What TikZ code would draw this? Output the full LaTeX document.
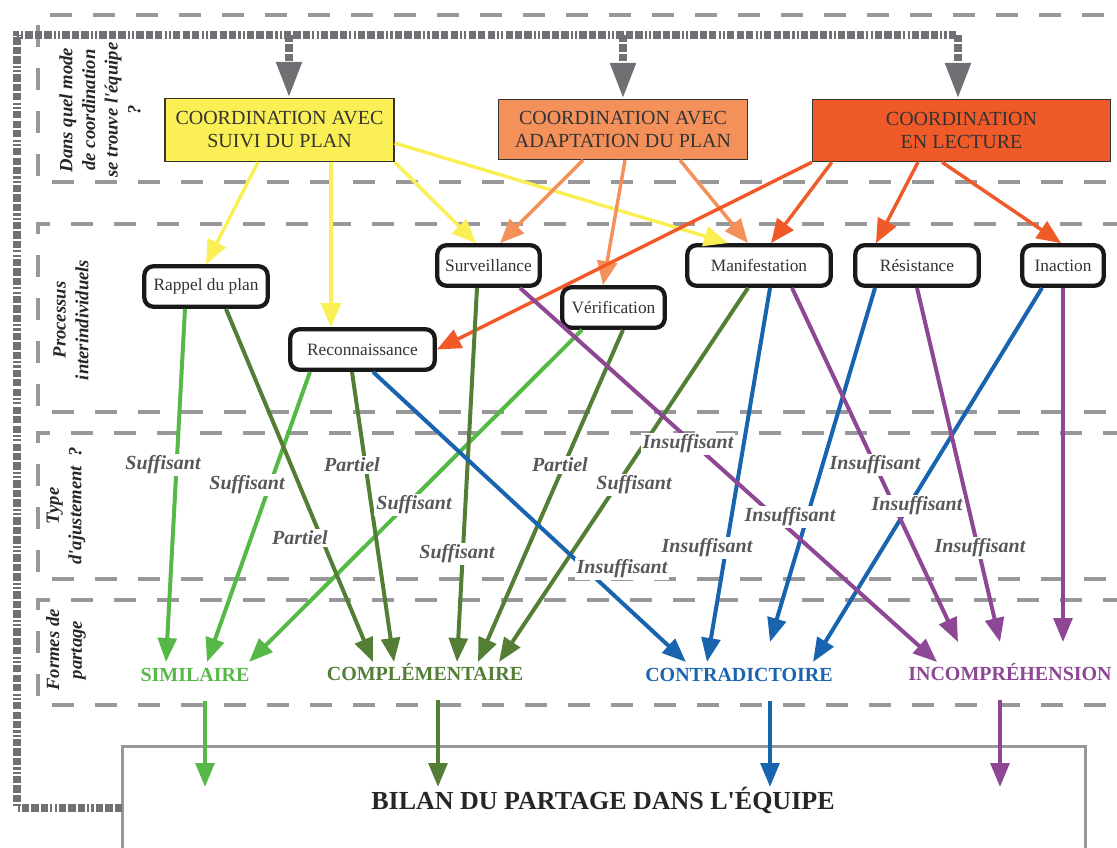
\documentclass[tikz,border=0pt]{standalone}
\usepackage{fontspec}
\setmainfont{Liberation Serif}[Ligatures=TeXOff]
\usetikzlibrary{arrows.meta}

\begin{document}
\begin{tikzpicture}[x=.75pt, y=-.75pt,
	band/.style={color=bandgrey, line width=3pt, dash pattern=on 16.5pt off 15.75pt},
	cadre/.style={color=framegrey, line width=6pt, dash pattern=on 5.5pt off 1.6pt on 5.5pt off 1.6pt on 5.5pt off 1.6pt on 1.6pt off 1.6pt on 1.6pt off 1.6pt},
	greytip/.style={-{Triangle[length=27pt, width=18pt]}},
	coordbox/.style={draw=black!80, line width=1pt, align=center, text=black!80, font=\fontsize{15}{17.25}\selectfont},
	procbox/.style={draw=black!90, fill=white, line width=3.2pt, rounded corners=7pt, minimum height=30.4pt, text=black!80, font=\fontsize{13}{15}\selectfont},
	upper/.style={line width=2.6pt, -{Triangle[length=18pt, width=15pt]}},
	lower/.style={line width=3pt, -{Triangle[length=18pt, width=14pt]}},
	lien/.style={fill=white, inner sep=1.5pt, text=textgrey, font=\fontsize{15}{17}\selectfont\bfseries\itshape},
	forme/.style={font=\fontsize{15}{17}\selectfont\bfseries, text height=10.5pt, text depth=0pt, inner ysep=15pt},
	question/.style={rotate=90, align=center, text=black!85, font=\fontsize{14}{17}\selectfont\bfseries\itshape},
]

\useasboundingbox (0, 0) rectangle (1117, 847);
\clip (0, 0) rectangle (1117, 847); % limit img size

	\definecolor{bandgrey}{HTML}{98989B}
	\definecolor{framegrey}{HTML}{6F7074}
	\definecolor{textgrey}{HTML}{58585A}

	% bands
	\draw[band] (50, 15) -- (1140, 15);
	\draw[band] (38, 25) -- (38, 182);
	\draw[band] (52, 182) -- (1140, 182);
	\draw[band] (38, 234) -- (38, 224) -- (1140, 224);
	\draw[band] (38, 255) -- (38, 412);
	\draw[band] (52, 412) -- (1140, 412);
	\draw[band] (38, 443) -- (38, 433) -- (1140, 433);
	\draw[band] (38, 464) -- (38, 579);
	\draw[band] (52, 579) -- (1140, 579);
	\draw[band] (38, 610) -- (38, 600) -- (1140, 600);
	\draw[band] (38, 631) -- (38, 705);
	\draw[band] (52, 705) -- (1140, 705);

	% questions
	\node[question] (qmode) at (100, 110) {Dans quel mode\\de coordination\\se trouve l'équipe\\?};
	\node[question] (qproc) at (71, 320) {Processus\\interindividuels};
	\node[question] (qtype) at (66, 506) {Type\\d'ajustement\enspace?};
	\node[question] (qforme) at (66, 650) {Formes de\\partage};

	% coordination modes
	\definecolor{suivi}{HTML}{FAF055}
	\definecolor{adapt}{HTML}{F4915B}
	\definecolor{lecture}{HTML}{F05A28}
	\node[coordbox, fill=suivi, minimum width=171.75pt, minimum height=47.25pt] (suivi) at (279.5, 130) {COORDINATION AVEC\\SUIVI DU PLAN};
	\node[coordbox, fill=adapt, minimum width=186.75pt, minimum height=45pt] (adapt) at (623, 129.5) {COORDINATION AVEC\\ADAPTATION DU PLAN};
	\node[coordbox, fill=lecture, minimum width=223.5pt, minimum height=46.5pt] (lecture) at (961.5, 130.5) {COORDINATION\\EN LECTURE};

	% processes
	\node[procbox, minimum width=92.6pt] (rappel) at (206, 286.5) {Rappel du plan};
	\node[procbox, minimum width=108.4pt] (recon) at (362.5, 349.5) {Reconnaissance};
	\node[procbox, minimum width=76.9pt] (surv) at (488.5, 265.5) {Surveillance};
	\node[procbox, minimum width=76.9pt] (verif) at (613.5, 307.5) {Vérification};
	\node[procbox, minimum width=107.6pt] (manif) at (759, 265.5) {Manifestation};
	\node[procbox, minimum width=92.6pt] (resist) at (917, 265.5) {Résistance};
	\node[procbox, minimum width=61.1pt] (inaction) at (1063, 265.5) {Inaction};

	% forms of sharing
	\definecolor{simil}{HTML}{56B947}
	\definecolor{compl}{HTML}{547E36}
	\definecolor{contr}{HTML}{1964AF}
	\definecolor{incom}{HTML}{8D4794}
	\node[forme, text=simil] (sim) at (195, 674) {SIMILAIRE};
	\node[forme, text=compl] (comp) at (425, 673) {COMPLÉMENTAIRE};
	\node[forme, text=contr] (contra) at (739, 674) {CONTRADICTOIRE};
	\node[forme, text=incom] (incomp) at (1010, 673) {INCOMPRÉHENSION};

	% bilan
	\draw[color=bandgrey, line width=2.25pt] (122, 746) rectangle (1085, 900);
	\node[font=\fontsize{19.5}{22}\selectfont\bfseries, text=black!85] (bilan) at (603, 800) {BILAN DU PARTAGE DANS L'ÉQUIPE};

	% frame
	\coordinate (ensuivi) at (289, 35);
	\coordinate (enadapt) at (623, 35);
	\coordinate (enlecture) at (958, 35);
	\draw[cadre] (122, 808) -| (17, 35) -- (enlecture);
	\draw[cadre, greytip] (ensuivi) -- (ensuivi |- suivi.north);
	\draw[cadre, greytip] (enadapt) -- (enadapt |- adapt.north);
	\draw[cadre, greytip] (enlecture) -- (enlecture |- lecture.north);

	% mode -> process
	\draw[upper, color=suivi] ([shift={(-21.5,0)}]suivi.south) -- (rappel.north);
	\draw[upper, color=suivi] ([shift={(51.5,0)}]suivi.south) -- ([shift={(-31.5,0)}]recon.north);
	\draw[upper, color=suivi] (suivi.south east) -- ([shift={(-12.5,0)}]surv.north);
	\draw[upper, color=suivi] ([shift={(0,13)}]suivi.east) -- ([shift={(-31,0)}]manif.north);
	\draw[upper, color=adapt] ([shift={(-40,0)}]adapt.south) -- ([shift={(11.5,0)}]surv.north);
	\draw[upper, color=adapt] ([shift={(2,0)}]adapt.south) -- ([shift={(-10.5,0)}]verif.north);
	\draw[upper, color=adapt] ([shift={(57,0)}]adapt.south) -- ([shift={(-11,0)}]manif.north);
	\draw[upper, color=lecture] (lecture.south west) -- (recon.east);
	\draw[upper, color=lecture] ([shift={(20,0)}]lecture.south west) -- ([shift={(12,0)}]manif.north);
	\draw[upper, color=lecture] ([shift={(-43.5,0)}]lecture.south) -- ([shift={(-41,0)}]resist.north);
	\draw[upper, color=lecture] ([shift={(-19.5,0)}]lecture.south) -- ([shift={(-2,0)}]inaction.north);

	% arrow ends
	\coordinate (sim1) at (166, 662);
	\coordinate (sim2) at (207, 662);
	\coordinate (sim3) at (249, 662);
	\coordinate (comp1) at (373, 662);
	\coordinate (comp2) at (394, 662);
	\coordinate (comp3) at (457, 662);
	\coordinate (comp4) at (478, 662);
	\coordinate (comp5) at (499, 662);
	\coordinate (contra1) at (686, 662);
	\coordinate (contra2) at (707, 662);
	\coordinate (contra3) at (770, 642);
	\coordinate (contra4) at (813, 662);
	\coordinate (incomp1) at (937, 662);
	\coordinate (incomp2) at (958, 642);
	\coordinate (incomp3) at (1000, 642);
	\coordinate (incomp4) at (1063, 642);

	% process -> form
	\draw[lower, color=simil] ([shift={(-21,0)}]rappel.south) -- (sim1);
	\draw[lower, color=simil] ([shift={(-52.5,0)}]recon.south) -- (sim2);
	\draw[lower, color=simil] ([shift={(-31.5,0)}]verif.south) -- (sim3);
	\draw[lower, color=compl] ([shift={(20,0)}]rappel.south) -- (comp1);
	\draw[lower, color=compl] ([shift={(-10.5,0)}]recon.south) -- (comp2);
	\draw[lower, color=compl] ([shift={(-11.5,0)}]surv.south) -- (comp3);
	\draw[lower, color=compl] ([shift={(9.5,0)}]verif.south) -- (comp4);
	\draw[lower, color=compl] ([shift={(-11,0)}]manif.south) -- (comp5);
	\draw[lower, color=contr] ([shift={(10.5,0)}]recon.south) -- (contra1);
	\draw[lower, color=contr] ([shift={(11,0)}]manif.south) -- (contra2);
	\draw[lower, color=contr] ([shift={(-42,0)}]resist.south) -- (contra3);
	\draw[lower, color=contr] ([shift={(-21,0)}]inaction.south) -- (contra4);
	\draw[lower, color=incom] ([shift={(31.5,0)}]surv.south) -- (incomp1);
	\draw[lower, color=incom] ([shift={(33,0)}]manif.south) -- (incomp2);
	\draw[lower, color=incom] (resist.south) -- (incomp3);
	\draw[lower, color=incom] (inaction.south) -- (incomp4);

	% adjustment labels
	\node[lien] (suf1) at (163, 465) {Suffisant};
	\node[lien] (suf2) at (247, 485) {Suffisant};
	\node[lien] (part1) at (300, 538) {Partiel};
	\node[lien] (part2) at (352, 465) {Partiel};
	\node[lien] (suf3) at (414, 505) {Suffisant};
	\node[lien] (suf4) at (457, 554) {Suffisant};
	\node[lien] (part3) at (560, 465) {Partiel};
	\node[lien] (suf5) at (634, 485) {Suffisant};
	\node[lien] (insuf1) at (622, 569) {Insuffisant};
	\node[lien] (insuf2) at (688, 444) {Insuffisant};
	\node[lien] (insuf3) at (707, 548) {Insuffisant};
	\node[lien] (insuf4) at (790, 517) {Insuffisant};
	\node[lien] (insuf5) at (875, 465) {Insuffisant};
	\node[lien] (insuf6) at (917, 506) {Insuffisant};
	\node[lien] (insuf7) at (980, 548) {Insuffisant};

	% form -> bilan
	\coordinate (bilsim) at (205, 787);
	\coordinate (bilcomp) at (438, 787);
	\coordinate (bilcontra) at (770, 787);
	\coordinate (bilincomp) at (1000, 787);
	\draw[lower, color=simil] (bilsim |- sim.south) -- (bilsim);
	\draw[lower, color=compl] (bilcomp |- comp.south) -- (bilcomp);
	\draw[lower, color=contr] (bilcontra |- contra.south) -- (bilcontra);
	\draw[lower, color=incom] (bilincomp |- incomp.south) -- (bilincomp);

\end{tikzpicture}
\end{document}
